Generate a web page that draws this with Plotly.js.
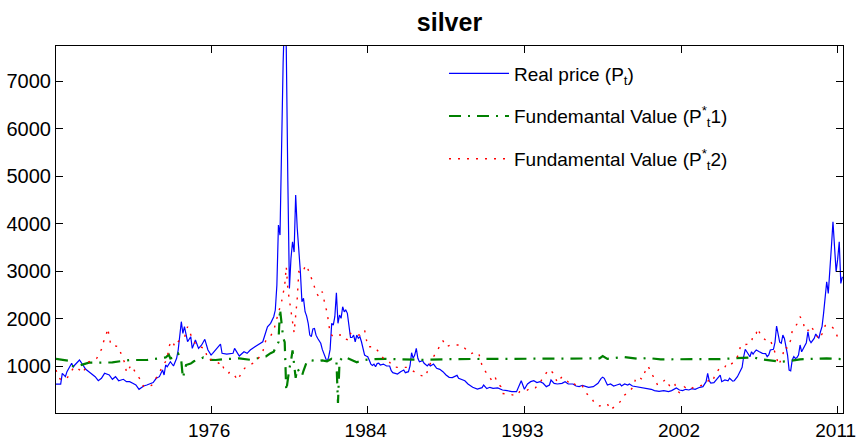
<!DOCTYPE html>
<html>
<head>
<meta charset="utf-8">
<script src="https://cdn.plot.ly/plotly-3.0.1.min.js"></script>
<style>html,body{margin:0;padding:0;background:#fff;}#chart{width:857px;height:442px;}</style>
</head>
<body>
<div id="chart"></div>
<script>
const priceIdx = [1,4,5,7,8,11,12,13,16,18,20,22,24,26,28,30,32,35,37,39,41,44,46,48,50,52,54,57,59,63,65,67,69,70,71,72,74,76,78,79,81,82,83,85,87,88,90,92,94,96,98,100,101,104,106,107,110,114,115,118,121,123,125,128,130,133,136,138,140,141,142,143,144,145,146,147,148,149,150,151,152,153,154,155,156,157,158,159,160,161,162,163,164,165,166,167,168,169,170,171,172,173,174,175,176,177,178,179,180,181,182,183,184,185,186,187,188,189,190,191,192,193,194,195,196,197,198,199,200,201,202,203,204,205,206,207,208,210,212,214,215,216,219,221,223,224,226,227,228,229,230,231,232,233,235,236,238,239,240,242,243,244,246,248,250,252,254,257,258,260,262,264,267,270,273,274,276,278,280,283,286,289,292,295,297,298,300,302,304,306,308,310,312,314,316,317,319,321,324,326,328,331,333,335,337,339,341,344,346,347,349,350,351,353,355,357,359,361,362,364,366,367,369,372,375,378,381,383,386,389,392,394,396,397,399,401,403,405,407,409,412,414,416,417,418,419,421,423,424,425,426,428,430,431,433,434,436,437,438,439,440,441,442,443,444,445,446,447,448,450,452,454,455,456,457,459,460,461,462,463,464,465,466,467,468,469,470,471,472,473,474,475,476,477,478,479,480,481,482,483,484,485,486,487,488,489,490,491,492,493,494,495,496,497,498,499,500,501,502,503];
const price = [620,620,845,775,880,1057,972,1021,1126,1021,930,880,831,775,690,741,846,810,720,775,690,720,670,670,635,600,509,579,600,650,741,775,916,810,1021,985,1090,1000,1162,1337,1933,1688,1827,1511,1617,1372,1547,1372,1442,1562,1337,1231,1267,1372,1463,1267,1252,1267,1372,1210,1301,1267,1337,1406,1442,1511,1827,1899,2038,2179,2700,3968,3757,5652,7400,8500,7700,4900,2635,3267,3617,3400,4600,3900,3500,2985,2353,2425,2143,2050,1900,1652,1617,1780,1790,1650,1583,1530,1478,1350,1250,1180,1090,1180,1350,1899,1863,2038,2543,1899,2073,2004,2248,2143,2179,2109,1900,1600,1600,1652,1511,1652,1583,1617,1511,1337,1231,1210,1196,1120,1040,1010,1040,985,1050,1060,1021,1040,1000,1000,900,859,831,880,916,859,880,1000,1280,1162,1231,1372,1162,1090,1110,1057,1000,1040,1000,1040,990,951,930,880,810,762,755,803,741,720,690,621,551,515,544,600,523,551,530,537,495,481,460,460,600,690,509,621,670,690,650,670,635,565,600,705,635,621,635,670,621,621,579,565,593,579,551,565,600,635,740,762,740,600,621,579,600,621,579,621,600,621,579,565,551,530,509,481,467,481,460,481,509,537,495,481,509,495,523,509,551,565,670,846,690,640,650,741,780,810,670,705,690,741,680,690,775,850,930,972,1200,1351,1301,1230,1195,1300,1250,1300,1337,1300,1267,1260,1196,1232,1337,1351,1500,1842,1617,1500,1477,1652,1580,1406,1231,916,900,1126,1196,1160,1180,1232,1442,1300,1370,1450,1491,1722,1547,1491,1540,1580,1673,1630,1580,1722,1827,2109,2494,2774,2530,2951,3511,4038,3511,2985,3250,3617,2740,2880];

const fv1Idx = [1,4,7,9,11,14,16,20,22,26,32,37,42,48,59,64,67,71,73,74,77,79,80,81,82,84,87,89,93,95,98,103,107,112,118,125,128,132,135,138,140,141,143,144,145,146,147,148,150,151,152,153,154,155,156,158,159,161,163,168,171,174,177,178,180,181,182,184,186,189,193,196,201,211,221,233,253,285,323,348,350,353,363,366,374,378,387,412,425,444,446,450,460,464,468,476,493,497,503];
const fv1 = [1150,1140,1130,1110,1000,990,1010,1040,1070,1070,1070,1075,1100,1126,1126,1150,1162,1180,1240,1160,1190,1260,1200,1100,750,1020,1050,1100,1150,1180,1130,1126,1140,1150,1160,1130,1150,1190,1200,1270,1300,1380,1500,2200,1900,1600,1500,480,950,1100,1330,1000,750,950,900,790,900,1080,1126,1100,1120,1100,1150,1130,1120,220,1100,1190,1180,1130,1080,1120,1140,1150,1140,1130,1145,1145,1145,1160,1210,1150,1190,1180,1145,1170,1140,1145,1145,1180,1190,1145,1100,1090,1100,1140,1160,1160,1145];

const fv2Idx = [1,3,5,8,12,14,18,22,25,27,30,31,33,34,35,36,39,41,43,45,46,49,52,55,57,62,64,66,69,72,73,75,77,79,81,83,85,88,91,96,98,101,105,106,108,111,112,115,117,120,122,126,129,133,135,138,140,142,145,147,148,149,151,152,153,155,156,158,160,161,163,165,167,169,171,172,173,174,175,176,178,181,183,184,188,189,192,195,198,200,204,207,210,213,216,219,223,225,228,230,233,237,239,242,245,248,250,253,256,260,262,266,269,271,272,273,276,279,281,283,285,286,290,293,295,297,301,304,307,310,312,316,319,321,324,327,330,332,334,337,340,343,345,348,350,353,355,357,359,362,364,366,370,371,373,375,377,379,381,383,385,388,390,393,396,397,399,402,405,408,410,412,415,416,419,420,422,425,428,429,431,434,437,438,442,445,446,448,449,451,454,457,459,461,462,463,465,466,468,470,471,474,476,478,479,482,483,486,488,490,492,495,498,500,503];
const fv2 = [916,741,700,741,951,985,850,1090,1126,1162,1350,1478,1652,1793,1617,1442,1421,1406,1210,1057,859,1020,850,705,560,590,705,800,990,1150,1406,1530,1406,1511,1580,1600,1827,1580,1420,1372,1126,1141,1057,1090,960,840,880,800,700,900,970,1040,1100,1301,1550,1630,1750,2004,2353,2700,3090,2620,2214,1932,1700,2425,2985,2950,3090,3126,2930,2775,2550,2450,2565,2390,2250,2143,1899,1688,1617,1652,1652,1583,1547,1688,1652,1652,1757,1406,1406,1301,1162,1126,985,972,972,972,916,880,810,775,985,1196,1372,1533,1406,1442,1442,1442,1372,1260,1301,1240,1162,985,846,705,790,630,565,420,410,390,370,460,470,545,540,640,775,930,831,650,775,700,590,621,565,579,410,320,200,158,179,200,74,130,179,270,390,425,579,741,775,720,880,1000,846,741,600,650,720,565,635,481,440,565,495,551,565,579,621,670,705,670,831,972,972,1042,1015,1090,1252,1442,1456,1491,1673,1688,1793,1630,1547,1547,1372,1196,1021,1070,1231,1406,1372,1547,1743,1884,2038,1932,1743,1757,1842,1688,1562,1673,1850,1863,1772,1604,1652];

const tickPos = [100,200,300,400,500];
const tickLabels = ['1976','1984','1993','2002','2011'];
const yTicks = [1000,2000,3000,4000,5000,6000,7000];
const names = ['Real price (P<sub>t</sub>)','Fundemantal Value (P<sup>*</sup><sub>t</sub>1)','Fundamental Value (P<sup>*</sup><sub>t</sub>2)'];

const FONT = 'Liberation Sans, Arial, sans-serif';
const traces = [
  {x: priceIdx, y: price, name: names[0], legendgroup:'a', type:'scatter', mode:'lines',
   line:{color:'#0000ff', width:1.2}},
  {x: fv1Idx, y: fv1, name: names[1], legendgroup:'b', type:'scatter', mode:'lines',
   line:{color:'#008000', width:2.2, dash:'12px,7px,2px,7px'}},
  {x: fv2Idx, y: fv2, name: names[2], legendgroup:'c', type:'scatter', mode:'lines',
   line:{color:'#ff0000', width:1.4, dash:'2px,7px'}}
];
const axisCommon = {showline:true, linecolor:'#000', linewidth:1, mirror:'ticks', ticks:'inside',
  ticklen:7, tickcolor:'#000', showgrid:false, zeroline:false,
  tickfont:{family:FONT, size:20, color:'#000'}};
const layout = {
  width:857, height:442,
  margin:{l:56, r:14, t:46, b:29},
  paper_bgcolor:'#fff', plot_bgcolor:'#fff',
  font:{family:FONT, color:'#000'},
  title:{text:'<b>silver</b>', font:{family:FONT, size:25, color:'#000'},
    x:0.5245, xanchor:'center', xref:'container', y:0.95, yanchor:'middle', yref:'container'},
  xaxis:Object.assign({}, axisCommon, {range:[1,503.4], tickmode:'array', tickvals:tickPos, ticktext:tickLabels,
    ticklabeloverflow:'allow', ticklabelshift:-2, tickfont:{family:FONT, size:19, color:'#000'}}),
  yaxis:Object.assign({}, axisCommon, {range:[10,7740], tickmode:'array', tickvals:yTicks, ticktext:yTicks.map(String)}),
  showlegend:true,
  legend:{x:0.493, y:0.977, xanchor:'left', yanchor:'top', bgcolor:'rgba(0,0,0,0)',
    borderwidth:0, font:{family:FONT, size:19, color:'#000'}, tracegroupgap:15, itemwidth:60}
};
Plotly.newPlot('chart', traces, layout, {displayModeBar:false, staticPlot:true});
</script>
</body>
</html>
